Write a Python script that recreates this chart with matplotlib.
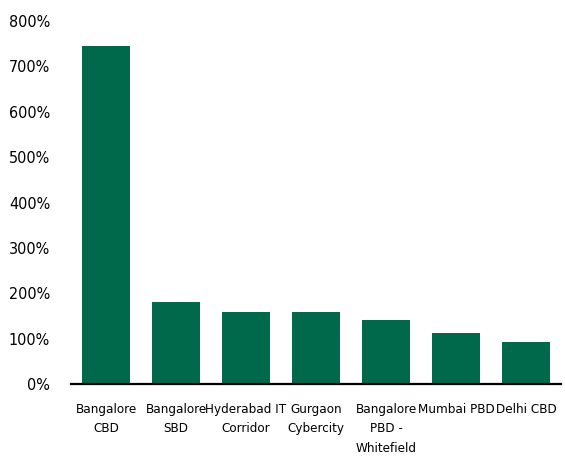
import matplotlib.pyplot as plt
from matplotlib.ticker import FuncFormatter

plt.rcParams['font.family'] = ['DejaVu Sans']
plt.rcParams['font.stretch'] = 'condensed'

markets = ["Bangalore\nCBD", "Bangalore\nSBD", "Hyderabad IT\nCorridor", "Gurgaon\nCybercity",
           "Bangalore\nPBD -\nWhitefield", "Mumbai PBD", "Delhi CBD"]
growth = [745, 180, 158, 158, 140, 113, 93]

fig = plt.figure(figsize=(5.65, 4.63), dpi=100)
ax = fig.add_axes([0.1257, 0.1706, 0.8673, 0.784])

ax.bar(range(len(markets)), growth, width=0.69, color="#00694C")

ax.set_xlim(-0.5, len(markets) - 0.5)
ax.set_ylim(0, 800)
ax.set_yticks(range(0, 801, 100))
ax.yaxis.set_major_formatter(FuncFormatter(lambda v, p: f"{v:.0f}%"))
ax.set_xticks(range(len(markets)))
ax.set_xticklabels(markets, linespacing=1.65)

for s in ["top", "right", "left"]:
    ax.spines[s].set_visible(False)
ax.spines["bottom"].set_linewidth(1.6)
ax.tick_params(axis="y", length=0, pad=15, labelsize=11.5)
ax.tick_params(axis="x", length=0, pad=13.5, labelsize=9.6)

fig.savefig("out.png", dpi=100)
